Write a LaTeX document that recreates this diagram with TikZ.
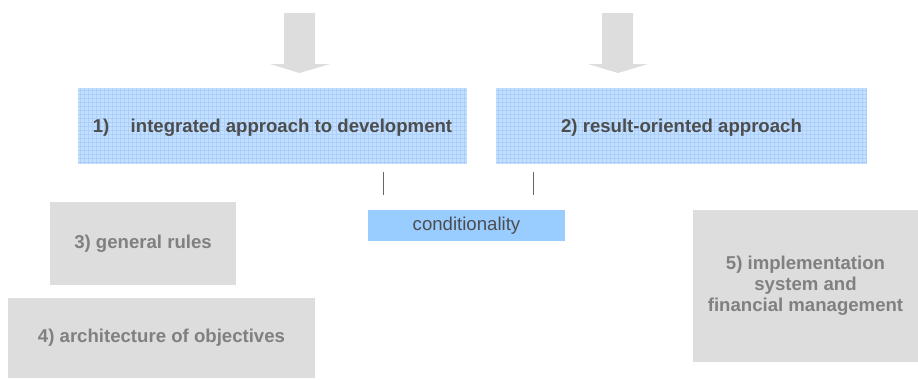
\documentclass[tikz,border=0pt]{standalone}
\usepackage{fontspec}
\setmainfont{Liberation Sans}
\usetikzlibrary{arrows.meta, calc, positioning}
\definecolor{boxgray}{HTML}{DDDDDD}
\definecolor{gridblue}{HTML}{C4E0FE}
\definecolor{gridline}{HTML}{A9CFFA}
\definecolor{condblue}{HTML}{99CCFF}
\definecolor{darktext}{HTML}{4D4D4D}
\definecolor{graytext}{HTML}{808080}
\tikzset{
  bluebox/.style={fill=gridblue, inner sep=0pt, minimum height=76pt, text depth=-3pt,
    font=\fontsize{18.6}{21}\selectfont\bfseries, text=darktext},
  graybox/.style={fill=boxgray, inner sep=0pt, align=center,
    font=\fontsize{18.6}{21}\selectfont\bfseries, text=graytext},
  condbox/.style={fill=condblue, inner sep=0pt, minimum width=197pt, minimum height=31pt,
    font=\fontsize{18.6}{21}\selectfont, text=darktext},
  tick/.style={draw=black!60, line width=1.2pt},
  gridlines/.style={draw=gridline, line width=0.5pt}
}
\begin{document}
\begin{tikzpicture}[x=1pt, y=-1pt]
\useasboundingbox (0,0) rectangle (918,380);
\fill[boxgray] (284,13)--(315,13)--(315,64)--(330,64)--(299.5,73)--(270,64)--(284,64)--cycle;
\fill[boxgray] (602,13)--(633,13)--(633,64)--(648,64)--(618,73)--(588,64)--(602,64)--cycle;
\fill[gridblue] (78,88) rectangle (467,164);
\fill[gridblue] (496,88) rectangle (867,164);
\foreach \x in {80,84,...,464} \draw[gridlines] (\x,88) -- (\x,164);
\foreach \x in {498,502,...,866} \draw[gridlines] (\x,88) -- (\x,164);
\foreach \y in {90,94,...,162} {
  \draw[gridlines] (78,\y) -- (467,\y);
  \draw[gridlines] (496,\y) -- (867,\y);
}
\path
(272.5,126) node[bluebox, fill=none, minimum width=389pt] (integrated) {1)\hspace{1.15em}integrated approach to development};
\path
(681.5,126) node[bluebox, fill=none, minimum width=371pt] (result) {2) result-oriented approach};
\path
(466.5,225.5) node[condbox] (cond) {conditionality};
\path
(143,243.5) node[graybox, minimum width=186pt, minimum height=83pt] (rules) {3) general rules};
\path
(161.5,338) node[graybox, minimum width=307pt, minimum height=80pt] (objectives) {4) architecture of objectives};
\path
(805.5,286) node[graybox, minimum width=225pt, minimum height=152pt] (implementation) {5) implementation\\system and\\financial management};
\coordinate (tickLtop) at (383.5,172);
\coordinate (tickLbot) at (383.5,195);
\coordinate (tickRtop) at (533.5,172);
\coordinate (tickRbot) at (533.5,195);
\draw[tick] (tickLtop) -- (tickLbot);
\draw[tick] (tickRtop) -- (tickRbot);
\end{tikzpicture}
\end{document}
